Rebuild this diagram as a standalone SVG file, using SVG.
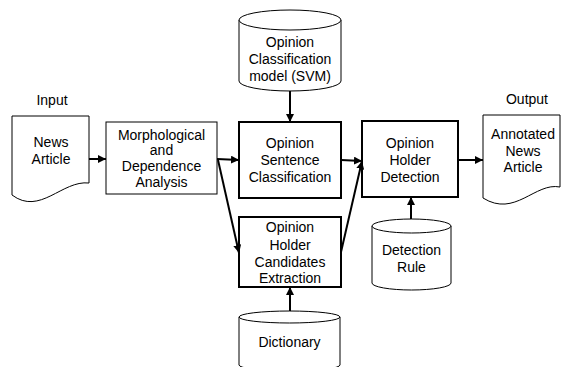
<svg xmlns="http://www.w3.org/2000/svg" width="561" height="367" viewBox="0 0 561 367">
<style>
text{font-family:"Liberation Sans",Arial,sans-serif;font-size:14px;fill:#000;text-anchor:middle}
.thin{fill:#fff;stroke:#000;stroke-width:1}
.thick{fill:#fff;stroke:#000;stroke-width:2}
.con{fill:none;stroke:#000;stroke-width:2}
</style>
<defs>
<marker id="ah" viewBox="0 0 10 10" refX="10" refY="5" markerWidth="4" markerHeight="4" orient="auto" markerUnits="strokeWidth">
<path d="M0,0 L10,5 L0,10 Z" fill="#000"/>
</marker>
</defs>
<rect width="561" height="367" fill="#fff"/>
<text x="52" y="105">Input</text>
<text x="527" y="104">Output</text>
<g id="input">
<path class="thin" d="M12,116 L89,116 L89,183 C62,180 40,216 12,195 Z"/>
<text x="51" y="147">News</text>
<text x="51" y="164">Article</text>
</g>
<g id="morph">
<rect class="thin" x="106" y="122" width="111" height="72"/>
<text x="161.5" y="140">Morphological</text>
<text x="161.5" y="155">and</text>
<text x="161.5" y="171">Dependence</text>
<text x="161.5" y="187">Analysis</text>
</g>
<g id="svm">
<path class="thin" d="M239,20 A51,10 0 0,1 341,20 L341,81 A51,10 0 0,1 239,81 Z"/>
<path class="thin" d="M239,20 A51,10 0 0,0 341,20"/>
<text x="290" y="47">Opinion</text>
<text x="290" y="64">Classification</text>
<text x="290" y="81">model (SVM)</text>
</g>
<g id="sentence">
<rect class="thick" x="239" y="122" width="102" height="76"/>
<text x="290" y="148">Opinion</text>
<text x="290" y="165">Sentence</text>
<text x="290" y="182">Classification</text>
</g>
<g id="candidates">
<rect class="thick" x="239" y="217" width="102" height="70"/>
<text x="290" y="232">Opinion</text>
<text x="290" y="250">Holder</text>
<text x="290" y="267">Candidates</text>
<text x="290" y="283">Extraction</text>
</g>
<g id="dictionary">
<path class="thin" d="M239,317 A50.5,6 0 0,1 340,317 L340,365 A50.5,6 0 0,1 239,365 Z"/>
<path class="thin" d="M239,317 A50.5,6 0 0,0 340,317"/>
<text x="289.5" y="347">Dictionary</text>
</g>
<g id="holder">
<rect class="thick" x="362" y="121" width="96" height="76"/>
<text x="410" y="148">Opinion</text>
<text x="410" y="165">Holder</text>
<text x="410" y="182">Detection</text>
</g>
<g id="rule">
<path class="thin" d="M372,226 A39.5,7 0 0,1 451,226 L451,283 A39.5,7 0 0,1 372,283 Z"/>
<path class="thin" d="M372,226 A39.5,7 0 0,0 451,226"/>
<text x="411.5" y="255">Detection</text>
<text x="411.5" y="272">Rule</text>
</g>
<g id="output">
<path class="thin" d="M483,115 L560,115 L560,187 C535,182 515,218 483,198 Z"/>
<text x="523" y="139">Annotated</text>
<text x="523" y="156">News</text>
<text x="523" y="172">Article</text>
</g>
<g id="connectors">
<line class="con" x1="89" y1="159" x2="106" y2="159" marker-end="url(#ah)"/>
<line class="con" x1="217" y1="159" x2="239" y2="160" marker-end="url(#ah)"/>
<line class="con" x1="218" y1="160" x2="239" y2="253" marker-end="url(#ah)"/>
<line class="con" x1="290" y1="91" x2="290" y2="122" marker-end="url(#ah)"/>
<line class="con" x1="341" y1="160" x2="362" y2="161" marker-end="url(#ah)"/>
<line class="con" x1="341" y1="252" x2="362" y2="161" marker-end="url(#ah)"/>
<line class="con" x1="290" y1="311" x2="290" y2="287" marker-end="url(#ah)"/>
<line class="con" x1="411" y1="219" x2="411" y2="197" marker-end="url(#ah)"/>
<line class="con" x1="458" y1="160" x2="483" y2="160" marker-end="url(#ah)"/>
</g>
</svg>
